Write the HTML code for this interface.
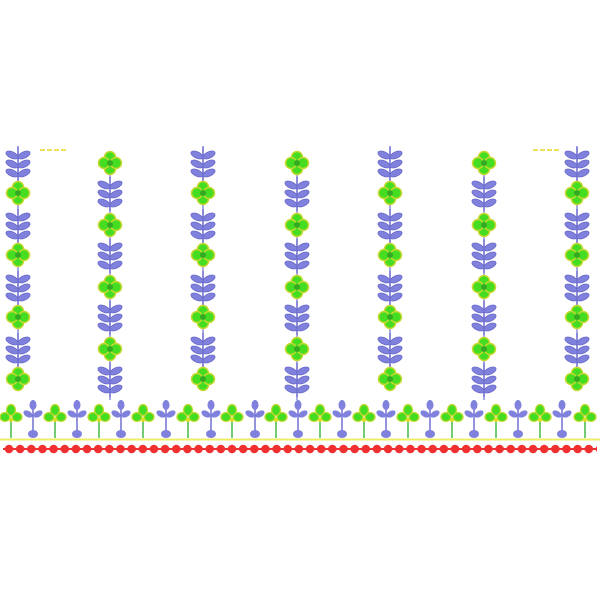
<!DOCTYPE html><html><head><style>body{margin:0;background:#fff}svg{display:block}</style></head><body>
<svg width="600" height="600" viewBox="0 0 600 600" xmlns="http://www.w3.org/2000/svg">
<defs>
<pattern id="dp" x="3.4" y="0" width="11.15" height="600" patternUnits="userSpaceOnUse">
<circle cx="5.6" cy="449" r="4.3" fill="#f03030"/>
</pattern>
<g id="leaf">
<line x1="0" y1="-18" x2="0" y2="16" stroke="#7070d0" stroke-width="1.5"/>
<g fill="#8080dd" stroke="#6a6ac8" stroke-width="0.8">
<ellipse cx="-6" cy="-10" rx="6.5" ry="3.2" transform="rotate(25 -6 -10)"/>
<ellipse cx="6" cy="-10" rx="6.5" ry="3.2" transform="rotate(-25 6 -10)"/>
<ellipse cx="-6" cy="-1" rx="6.5" ry="3.2" transform="rotate(25 -6 -1)"/>
<ellipse cx="6" cy="-1" rx="6.5" ry="3.2" transform="rotate(-25 6 -1)"/>
<ellipse cx="-6" cy="8" rx="6.5" ry="3.2" transform="rotate(25 -6 8)"/>
<ellipse cx="6" cy="8" rx="6.5" ry="3.2" transform="rotate(-25 6 8)"/>
</g></g>
<g id="clover" fill="#44dd22" stroke="#c8d830" stroke-width="1.5">
<circle cx="0" cy="-6" r="5.5"/><circle cx="0" cy="6" r="5.5"/>
<circle cx="-6" cy="0" r="5.5"/><circle cx="6" cy="0" r="5.5"/>
<circle cx="0" cy="0" r="3" fill="#33aa22" stroke="none"/>
</g>
<g id="bc">
<line x1="0" y1="418" x2="0" y2="438" stroke="#44bb44" stroke-width="1.5"/>
<g fill="#44dd22" stroke="#c8d830" stroke-width="1.3">
<ellipse cx="-6" cy="417" rx="5" ry="4.5" /><ellipse cx="6" cy="417" rx="5" ry="4.5"/>
<ellipse cx="0" cy="410" rx="4.5" ry="5.5"/></g>
<circle cx="0" cy="420" r="2" fill="#dddd22"/>
</g>
<g id="bp" fill="#8080dd">
<line x1="0" y1="400" x2="0" y2="434" stroke="#7070d0" stroke-width="1.5"/>
<ellipse cx="0" cy="405" rx="3.5" ry="5"/>
<ellipse cx="-5" cy="414" rx="5" ry="3" transform="rotate(30 -5 414)"/>
<ellipse cx="5" cy="414" rx="5" ry="3" transform="rotate(-30 5 414)"/>
<ellipse cx="0" cy="434" rx="5" ry="4"/>
</g>
<g id="colA">
<line x1="0" y1="146" x2="0" y2="390" stroke="#7070d0" stroke-width="1.2"/>
<use href="#leaf" y="165"/><use href="#clover" y="193"/><use href="#leaf" y="227"/><use href="#clover" y="255"/><use href="#leaf" y="289"/><use href="#clover" y="317"/><use href="#leaf" y="351"/><use href="#clover" y="379"/></g>
<g id="colB">
<line x1="0" y1="170" x2="0" y2="400" stroke="#7070d0" stroke-width="1.2"/>
<use href="#clover" y="163"/><use href="#leaf" y="195"/><use href="#clover" y="225"/><use href="#leaf" y="257"/><use href="#clover" y="287"/><use href="#leaf" y="319"/><use href="#clover" y="349"/><use href="#leaf" y="381"/></g>
</defs>
<use href="#colA" x="18"/><use href="#colA" x="203"/><use href="#colA" x="390"/><use href="#colA" x="577"/>
<use href="#colB" x="110"/><use href="#colB" x="297"/><use href="#colB" x="484"/>
<line x1="40" y1="150" x2="66" y2="150" stroke="#e8d820" stroke-width="1.5" stroke-dasharray="5 2"/>
<line x1="533" y1="150" x2="559" y2="150" stroke="#e8d820" stroke-width="1.5" stroke-dasharray="5 2"/>
<g>
<use href="#bc" x="11"/><use href="#bp" x="33"/><use href="#bc" x="55"/><use href="#bp" x="77"/><use href="#bc" x="99"/><use href="#bp" x="121"/><use href="#bc" x="143"/><use href="#bp" x="166"/><use href="#bc" x="188"/><use href="#bp" x="211"/><use href="#bc" x="232"/><use href="#bp" x="255"/><use href="#bc" x="276"/><use href="#bp" x="298"/><use href="#bc" x="320"/><use href="#bp" x="342"/><use href="#bc" x="364"/><use href="#bp" x="386"/><use href="#bc" x="408"/><use href="#bp" x="430"/><use href="#bc" x="452"/><use href="#bp" x="474"/><use href="#bc" x="496"/><use href="#bp" x="518"/><use href="#bc" x="540"/><use href="#bp" x="562"/><use href="#bc" x="585"/>
</g>
<line x1="0" y1="439.5" x2="600" y2="439.5" stroke="#eeee66" stroke-width="2"/>
<line x1="3" y1="449" x2="597" y2="449" stroke="#ee3333" stroke-width="2"/>
<rect x="3" y="443" width="594" height="12" fill="url(#dp)"/>
</svg>
</body></html>
